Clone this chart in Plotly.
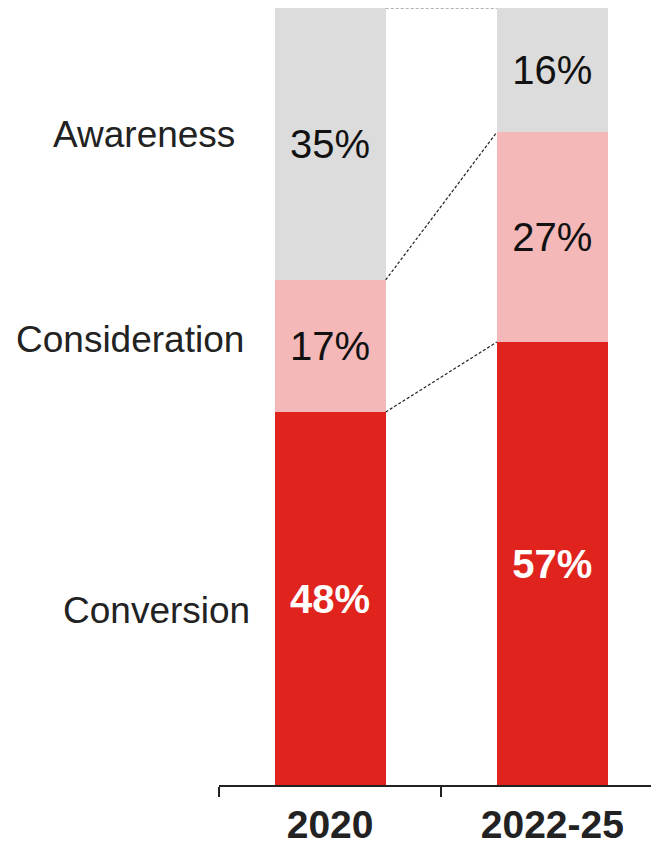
import plotly.graph_objects as go

categories = ["2020", "2022-25"]
conversion = [48, 57]
consideration = [17, 27]
awareness = [35, 16]
stage_labels = ["Awareness", "Consideration", "Conversion"]

RED = "#E0231C"
PINK = "#F4B8B8"
GRAY = "#DCDCDC"
FONT = "Liberation Sans, Arial, sans-serif"

fig = go.Figure()

def add_bar(vals, color, txtcolor, bold, name):
    fig.add_trace(go.Bar(
        x=categories, y=vals, name=name, marker=dict(color=color, line=dict(width=0)),
        width=0.5,
        text=[f"<b>{v}%</b>" if bold else f"{v}%" for v in vals],
        textposition="inside", insidetextanchor="middle", textangle=0,
        textfont=dict(family=FONT, size=40, color=txtcolor),
        constraintext="none", hoverinfo="skip", showlegend=False,
    ))

add_bar(conversion, RED, "white", True, "Conversion")
add_bar(consideration, PINK, "#111111", False, "Consideration")
add_bar(awareness, GRAY, "#111111", False, "Awareness")

# connector lines between bar edges (category index 0 right edge -> index 1 left edge)
cum1 = [c + k for c, k in zip(conversion, consideration)]
cum_top = [c + k + a for c, k, a in zip(conversion, consideration, awareness)]
x0, x1 = 0.25, 0.75
for ys, col in [(conversion, "#222222"), (cum1, "#222222"), (cum_top, "#666666")]:
    fig.add_trace(go.Scatter(
        x=[x0, x1], y=[ys[0], ys[1]], mode="lines", xaxis="x2",
        line=dict(color=col, width=1.2, dash="3px,2px"),
        hoverinfo="skip", showlegend=False, cliponaxis=False,
    ))

label_pos = {"Awareness": (-0.170, 83.7), "Consideration": (-0.202, 57.3), "Conversion": (-0.141, 22.5)}
for lab in stage_labels:
    px, py = label_pos[lab]
    fig.add_annotation(x=px, y=py, xref="paper", yref="y", text=lab, showarrow=False,
                       xanchor="center", yanchor="middle",
                       font=dict(family=FONT, size=37, color="#222222"))

fig.update_layout(
    width=651, height=838,
    margin=dict(l=211, r=0, t=0, b=61, autoexpand=False),
    barmode="stack", bargap=0.5,
    plot_bgcolor="white", paper_bgcolor="white",
    xaxis=dict(type="category", range=[-0.5, 1.48], tickson="boundaries",
               ticks="outside", ticklen=10, tickwidth=2, tickcolor="#222222",
               showline=True, linewidth=2, linecolor="#222222",
               tickfont=dict(family=FONT, size=39, color="#222222"),
               ticklabelstandoff=4, automargin=False,
               tickprefix="<b>", ticksuffix="</b>", showgrid=False, zeroline=False),
    xaxis2=dict(overlaying="x", range=[-0.5, 1.48], visible=False),
    yaxis=dict(range=[0, 100], visible=False, showgrid=False, zeroline=False, automargin=False),
)

fig.write_html("out.html")
